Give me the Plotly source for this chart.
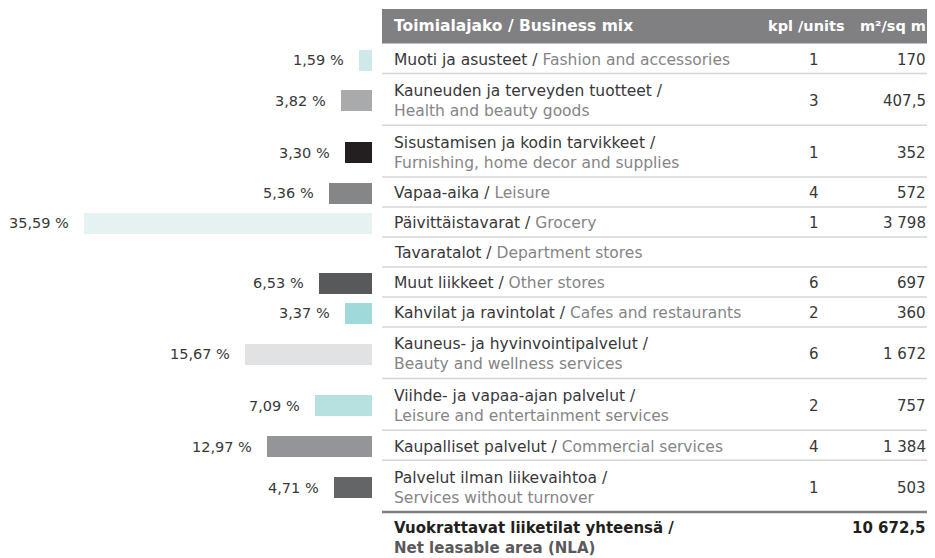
import plotly.graph_objects as go

# Business mix data
names_fi = ["Muoti ja asusteet", "Kauneuden ja terveyden tuotteet", "Sisustamisen ja kodin tarvikkeet",
            "Vapaa-aika", "Päivittäistavarat", "Tavaratalot", "Muut liikkeet",
            "Kahvilat ja ravintolat", "Kauneus- ja hyvinvointipalvelut", "Viihde- ja vapaa-ajan palvelut",
            "Kaupalliset palvelut", "Palvelut ilman liikevaihtoa"]
names_en = ["Fashion and accessories", "Health and beauty goods", "Furnishing, home decor and supplies",
            "Leisure", "Grocery", "Department stores", "Other stores",
            "Cafes and restaurants", "Beauty and wellness services", "Leisure and entertainment services",
            "Commercial services", "Services without turnover"]
units = [1, 3, 1, 4, 1, None, 6, 2, 6, 2, 4, 1]
area = [170, 407.5, 352, 572, 3798, None, 697, 360, 1672, 757, 1384, 503]
share = [1.59, 3.82, 3.30, 5.36, 35.59, None, 6.53, 3.37, 15.67, 7.09, 12.97, 4.71]
total_area = 10672.5

bar_colors = ["#cfe9ea", "#a9aaac", "#231f20", "#858688", "#e6f2f2", None,
              "#58595b", "#a0d9da", "#e1e2e4", "#b7e0e0", "#949598", "#646567"]

W, H = 935, 558
OFF = 8  # page body margin, figure sits 8px in from the window corner
FONT = "DejaVu Sans"
DARK = "#38383a"
LIGHT = "#858587"
HEAD = "#808083"


def fmt_num(v):
    if v is None:
        return ""
    if float(v).is_integer():
        s = f"{int(v):,}".replace(",", " ")
    else:
        s = f"{v:,.1f}".replace(",", " ").replace(".", ",")
    return s


def fmt_pct(v):
    return f"{v:.2f}".replace(".", ",") + " %"


def px(x):
    # window pixel -> paper fraction (margins are zero)
    return (x - OFF) / W


# row layout: long labels wrap onto two lines
bar_right = 372
tab_left, text_x, units_x, area_x = 382, 392, 814, 928
head_top, head_bot = 9, 43.5
pad, line_h = 8.3, 21.7
tops, centers, wrapped = [], [], []
y = head_bot
for fi, en in zip(names_fi, names_en):
    wrap = len(fi) + len(en) + 3 > 48
    h = pad + line_h * (2 if wrap else 1)
    tops.append(y)
    centers.append(y + h / 2 + 1.5)
    wrapped.append(wrap)
    y += h
table_bottom = y

fig = go.Figure()

# bars (percent share), growing leftwards
bx = [s for s in share if s is not None]
by = [c for s, c in zip(share, centers) if s is not None]
bc = [c for s, c in zip(share, bar_colors) if s is not None]
fig.add_trace(go.Bar(x=bx, y=by, orientation="h", width=21, marker=dict(color=bc, line_width=0),
                     hoverinfo="skip", showlegend=False))

ann = []
for s, c in zip(share, centers):
    if s is None:
        continue
    ann.append(dict(x=s, y=c, xref="x", yref="y", text=fmt_pct(s), showarrow=False,
                    xanchor="right", yanchor="middle", xshift=-13,
                    font=dict(family=FONT, size=14.5, color=DARK)))

shapes = [dict(type="rect", xref="paper", yref="y", x0=px(tab_left), x1=1, y0=head_top, y1=head_bot,
               fillcolor=HEAD, line_width=0, layer="below")]

# header texts
hy = (head_top + head_bot) / 2
ann.append(dict(x=px(text_x), y=hy, xref="paper", yref="y", text="<b>Toimialajako / Business mix</b>",
                showarrow=False, xanchor="left", yanchor="middle",
                font=dict(family=FONT, size=15.5, color="white")))
ann.append(dict(x=px(806), y=hy, xref="paper", yref="y", text="<b>kpl /units</b>",
                showarrow=False, xanchor="center", yanchor="middle",
                font=dict(family=FONT, size=14.5, color="white")))
ann.append(dict(x=px(area_x), y=hy, xref="paper", yref="y", text="<b>m²/sq m</b>",
                showarrow=False, xanchor="right", yanchor="middle",
                font=dict(family=FONT, size=14.5, color="white")))

for i, (fi, en) in enumerate(zip(names_fi, names_en)):
    sep = "<br>" if wrapped[i] else " "
    label = f"{fi} /{sep}<span style='color:{LIGHT}'>{en}</span>"
    c = centers[i]
    ann.append(dict(x=px(text_x), y=c, xref="paper", yref="y", text=label, showarrow=False,
                    xanchor="left", yanchor="middle", align="left",
                    font=dict(family=FONT, size=15.5, color=DARK)))
    if units[i] is not None:
        ann.append(dict(x=px(units_x), y=c, xref="paper", yref="y", text=str(units[i]), showarrow=False,
                        xanchor="center", yanchor="middle",
                        font=dict(family=FONT, size=15, color=DARK)))
    if area[i] is not None:
        ann.append(dict(x=px(area_x), y=c, xref="paper", yref="y", text=fmt_num(area[i]), showarrow=False,
                        xanchor="right", yanchor="middle",
                        font=dict(family=FONT, size=15, color=DARK)))
    bottom = tops[i + 1] if i + 1 < len(tops) else table_bottom
    last = i == len(names_fi) - 1
    shapes.append(dict(type="line", xref="paper", yref="y", x0=px(tab_left), x1=1, y0=bottom, y1=bottom,
                       line=dict(color=HEAD if last else "#d6d6d8", width=2.5 if last else 1.5)))

# total row
ann.append(dict(x=px(text_x), y=table_bottom + 26, xref="paper", yref="y",
                text="<b>Vuokrattavat liiketilat yhteensä /</b><br>"
                     "<b><span style='color:#5a5a5c'>Net leasable area (NLA)</span></b>",
                showarrow=False, xanchor="left", yanchor="middle", align="left",
                font=dict(family=FONT, size=15, color="#231f20")))
ann.append(dict(x=px(area_x), y=table_bottom + 16, xref="paper", yref="y", text=f"<b>{fmt_num(total_area)}</b>",
                showarrow=False, xanchor="right", yanchor="middle",
                font=dict(family=FONT, size=15, color="#231f20")))

# percent axis: 35,59 % bar spans 84..372 px in the window
px_per_pct = (bar_right - 84) / 35.59
fig.update_layout(
    width=W, height=H,
    margin=dict(l=0, r=0, t=0, b=0),
    paper_bgcolor="white", plot_bgcolor="white",
    xaxis=dict(domain=[0, (bar_right - OFF) / W], range=[(bar_right - OFF) / px_per_pct, 0],
               visible=False, fixedrange=True),
    yaxis=dict(domain=[0, 1], range=[H + OFF, OFF], visible=False, fixedrange=True),
    annotations=ann,
    shapes=shapes,
    bargap=0,
)

fig.write_html("out.html")
